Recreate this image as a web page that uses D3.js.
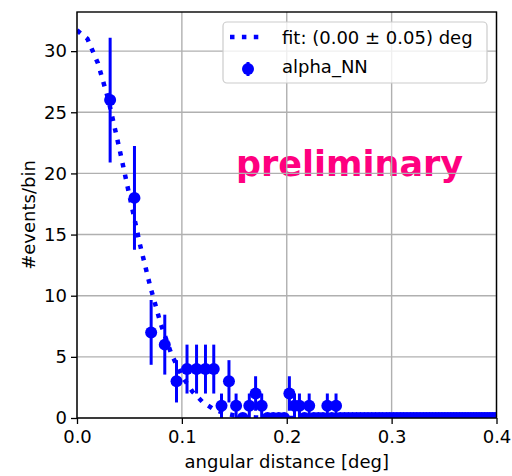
<!DOCTYPE html>
<html lang="en">
<head>
  <meta charset="UTF-8">
  <title>alpha_NN angular distance</title>
  <script src="https://cdn.jsdelivr.net/npm/d3@7/dist/d3.min.js"></script>
  <style>
    body { margin: 0; background: #fff; }
    text { font-family: "DejaVu Sans", sans-serif; fill: #000; }
  </style>
</head>
<body>
<div id="chart"></div>
<script type="text/javascript">
  // bin centres (deg) and counts
  var binX = [0.0316, 0.0548, 0.0707, 0.0837, 0.0949, 0.1049, 0.1140, 0.1225, 0.1304, 0.1378,
              0.1449, 0.1517, 0.1581, 0.1643, 0.1703, 0.1761, 0.1817, 0.1871, 0.1924, 0.1975,
              0.2025, 0.2074, 0.2121, 0.2168, 0.2214, 0.2258, 0.2302, 0.2345, 0.2387, 0.2429,
              0.2470, 0.2510, 0.2550, 0.2588, 0.2627, 0.2665, 0.2702, 0.2739, 0.2775, 0.2811,
              0.2846, 0.2881, 0.2915, 0.2950, 0.2983, 0.3017, 0.3050, 0.3082, 0.3114, 0.3146,
              0.3178, 0.3209, 0.3240, 0.3271, 0.3302, 0.3332, 0.3362, 0.3391, 0.3421, 0.3450,
              0.3479, 0.3507, 0.3536, 0.3564, 0.3592, 0.3619, 0.3647, 0.3674, 0.3701, 0.3728,
              0.3755, 0.3782, 0.3808, 0.3834, 0.3860, 0.3886, 0.3912, 0.3937, 0.3962, 0.3987];
  var counts = [26, 18, 7, 6, 3, 4, 4, 4, 4, 1,
                3, 1, 0, 1, 2, 1, 0, 0, 0, 0,
                2, 1, 1, 0, 1, 0, 0, 0, 1, 0,
                1, 0, 0, 0, 0, 0, 0, 0, 0, 0,
                0, 0, 0, 0, 0, 0, 0, 0, 0, 0,
                0, 0, 0, 0, 0, 0, 0, 0, 0, 0,
                0, 0, 0, 0, 0, 0, 0, 0, 0, 0,
                0, 0, 0, 0, 0, 0, 0, 0, 0, 0];
  var errs = [5.1, 4.24, 2.65, 2.45, 1.73, 2, 2, 2, 2, 1,
              1.73, 1, 0, 1, 1.41, 1, 0, 0, 0, 0,
              1.41, 1, 1, 0, 1, 0, 0, 0, 1, 0,
              1, 0, 0, 0, 0, 0, 0, 0, 0, 0,
              0, 0, 0, 0, 0, 0, 0, 0, 0, 0,
              0, 0, 0, 0, 0, 0, 0, 0, 0, 0,
              0, 0, 0, 0, 0, 0, 0, 0, 0, 0,
              0, 0, 0, 0, 0, 0, 0, 0, 0, 0];

  // fit curve
  var fitX = [0, 0.01, 0.02, 0.03, 0.04, 0.05, 0.06, 0.07, 0.08, 0.09, 0.10,
              0.11, 0.12, 0.13, 0.14, 0.15, 0.16, 0.17, 0.18, 0.19, 0.20, 0.40];
  var fitY = [31.7, 31.0, 29.0, 26.0, 22.2, 18.2, 14.2, 10.7, 7.65, 5.24, 3.44,
              2.16, 1.29, 0.74, 0.41, 0.21, 0.11, 0.05, 0.02, 0.01, 0, 0];

  var xTicks = [0, 0.1, 0.2, 0.3, 0.4];
  var yTicks = [0, 5, 10, 15, 20, 25, 30];
  var legendLabels = ["fit: (0.00 \u00b1 0.05) deg", "alpha_NN"];

  var W = 512, H = 476;
  var margin = {top: 12, right: 15.5, bottom: 58, left: 77};
  var blue = "#0000ff";

  var svg = d3.select("#chart").append("svg")
    .attr("width", W)
    .attr("height", H);

  var x = d3.scaleLinear().domain([0, 0.4]).range([margin.left, W - margin.right]);
  var y = d3.scaleLinear().domain([0, 33.2]).range([H - margin.bottom, margin.top]);

  svg.append("clipPath").attr("id", "plotclip")
    .append("rect")
    .attr("x", margin.left).attr("y", margin.top)
    .attr("width", x(0.4) - x(0)).attr("height", y(0) - y(33.2));

  // watermark (grid is drawn over it)
  svg.append("text")
    .attr("x", 236)
    .attr("y", 176)
    .style("font-size", "35px")
    .style("font-weight", "bold")
    .style("fill", "#ff007f")
    .text("preliminary");

  // grid
  var grid = svg.append("g").attr("stroke", "#b0b0b0").attr("stroke-width", 1.4);
  grid.selectAll(".gx").data(xTicks).enter().append("line")
    .attr("x1", d => x(d)).attr("x2", d => x(d))
    .attr("y1", y(0)).attr("y2", y(33.2));
  grid.selectAll(".gy").data(yTicks).enter().append("line")
    .attr("x1", x(0)).attr("x2", x(0.4))
    .attr("y1", d => y(d)).attr("y2", d => y(d));

  var plot = svg.append("g").attr("clip-path", "url(#plotclip)");

  // fit line
  var line = d3.line().x(d => x(d[0])).y(d => y(d[1]));
  plot.append("path")
    .datum(fitX.map((v, i) => [v, fitY[i]]))
    .attr("d", line)
    .attr("fill", "none")
    .attr("stroke", blue)
    .attr("stroke-width", 4.5)
    .attr("stroke-dasharray", "4.5,7.4");

  // error bars + markers
  var pts = binX.map((v, i) => ({x: v, n: counts[i], e: errs[i]}));
  plot.selectAll(".eb").data(pts.filter(d => d.e > 0)).enter().append("line")
    .attr("x1", d => x(d.x)).attr("x2", d => x(d.x))
    .attr("y1", d => y(d.n - d.e)).attr("y2", d => y(d.n + d.e))
    .attr("stroke", blue)
    .attr("stroke-width", 3);
  plot.selectAll(".pt").data(pts).enter().append("circle")
    .attr("cx", d => x(d.x))
    .attr("cy", d => y(d.n))
    .attr("r", 6)
    .attr("fill", blue);

  // axes
  var xAxis = d3.axisBottom(x).tickValues(xTicks).tickFormat(d3.format(".1f")).tickSize(6).tickPadding(6);
  var yAxis = d3.axisLeft(y).tickValues(yTicks).tickFormat(d3.format("d")).tickSize(6).tickPadding(4);

  var gx = svg.append("g").attr("transform", "translate(0," + y(0) + ")").call(xAxis);
  var gy = svg.append("g").attr("transform", "translate(" + x(0) + ",0)").call(yAxis);
  [gx, gy].forEach(function(g) {
    g.select(".domain").remove();
    g.selectAll(".tick line").attr("stroke", "#000").attr("stroke-width", 1.3);
    g.selectAll(".tick text").style("font-size", "18px").style("font-family", "DejaVu Sans");
  });

  // frame
  svg.append("rect")
    .attr("x", x(0)).attr("y", y(33.2))
    .attr("width", x(0.4) - x(0)).attr("height", y(0) - y(33.2))
    .attr("fill", "none")
    .attr("stroke", "#000")
    .attr("stroke-width", 1.4);

  // labels
  svg.append("text")
    .attr("x", (x(0) + x(0.4)) / 2)
    .attr("y", 468)
    .attr("text-anchor", "middle")
    .style("font-size", "18px")
    .text("angular distance [deg]");
  svg.append("text")
    .attr("transform", "translate(35," + (y(0) + y(33.2)) / 2 + ") rotate(-90)")
    .attr("text-anchor", "middle")
    .style("font-size", "18px")
    .text("#events/bin");

  // legend
  var lg = svg.append("g");
  lg.append("rect")
    .attr("x", 223).attr("y", 22)
    .attr("width", 264).attr("height", 61)
    .attr("rx", 4)
    .attr("fill", "#fff").attr("fill-opacity", 0.8)
    .attr("stroke", "#cccccc").attr("stroke-width", 1.2);
  lg.append("line")
    .attr("x1", 230).attr("x2", 262)
    .attr("y1", 37).attr("y2", 37)
    .attr("stroke", blue).attr("stroke-width", 4.5)
    .attr("stroke-dasharray", "4.5,7.4");
  lg.append("line")
    .attr("x1", 248).attr("x2", 248)
    .attr("y1", 62).attr("y2", 76)
    .attr("stroke", blue).attr("stroke-width", 3);
  lg.append("circle")
    .attr("cx", 248).attr("cy", 69).attr("r", 6)
    .attr("fill", blue);
  lg.selectAll(".lt").data(legendLabels).enter().append("text")
    .attr("x", 282)
    .attr("y", (d, i) => 43.5 + i * 29)
    .style("font-size", "18px")
    .text(d => d);
</script>
</body>
</html>
